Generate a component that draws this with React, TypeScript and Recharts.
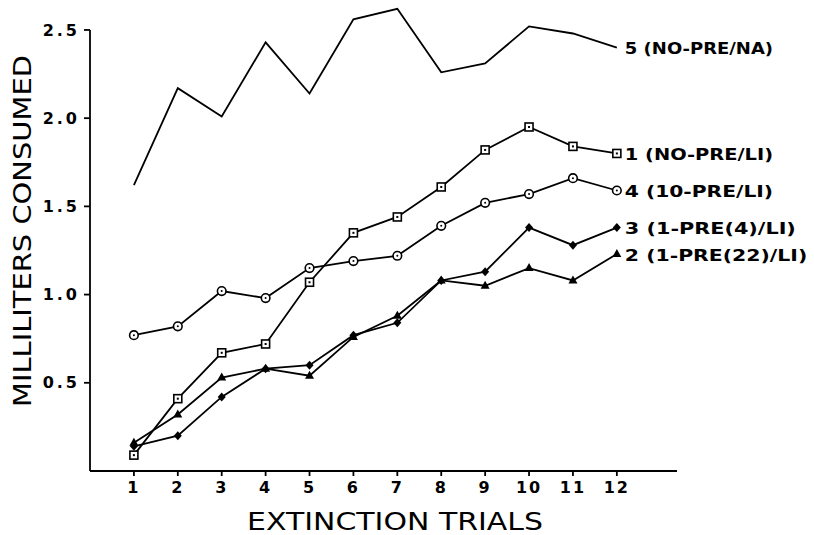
import { LineChart, Line, XAxis, YAxis, ReferenceLine } from "recharts";

// extinction trials 1..12
const trials = [1, 2, 3, 4, 5, 6, 7, 8, 9, 10, 11, 12];

// milliliters consumed per group
const group5 = [1.62, 2.17, 2.01, 2.43, 2.14, 2.56, 2.62, 2.26, 2.31, 2.52, 2.48, 2.4];
const group1 = [0.09, 0.41, 0.67, 0.72, 1.07, 1.35, 1.44, 1.61, 1.82, 1.95, 1.84, 1.8];
const group4 = [0.77, 0.82, 1.02, 0.98, 1.15, 1.19, 1.22, 1.39, 1.52, 1.57, 1.66, 1.59];
const group3 = [0.14, 0.2, 0.42, 0.58, 0.6, 0.77, 0.84, 1.08, 1.13, 1.38, 1.28, 1.38];
const group2 = [0.16, 0.32, 0.53, 0.58, 0.54, 0.76, 0.88, 1.08, 1.05, 1.15, 1.08, 1.23];

const seriesNames = {
  g5: "5 (NO-PRE/NA)",
  g1: "1 (NO-PRE/LI)",
  g4: "4 (10-PRE/LI)",
  g3: "3 (1-PRE(4)/LI)",
  g2: "2 (1-PRE(22)/LI)",
};

const yTicks = [0.5, 1.0, 1.5, 2.0, 2.5];

const data = trials.map((t, i) => ({
  trial: t,
  g5: group5[i],
  g1: group1[i],
  g4: group4[i],
  g3: group3[i],
  g2: group2[i],
}));

const FONT = "'DejaVu Sans', sans-serif";
const LW = 1.8;

const squareDot = (p: any) => (
  <g key={`sq-${p.index}`}>
    <rect x={p.cx - 4} y={p.cy - 4} width={8} height={8} fill="#fff" stroke="#000" strokeWidth={1.6} />
    <rect x={p.cx - 1} y={p.cy - 1} width={2} height={2} fill="#000" />
  </g>
);

const circleDot = (p: any) => (
  <g key={`ci-${p.index}`}>
    <circle cx={p.cx} cy={p.cy} r={4.3} fill="#fff" stroke="#000" strokeWidth={1.6} />
    <circle cx={p.cx} cy={p.cy} r={1} fill="#000" />
  </g>
);

const diamondDot = (p: any) => (
  <path
    key={`di-${p.index}`}
    d={`M${p.cx},${p.cy - 4.5} L${p.cx + 4},${p.cy} L${p.cx},${p.cy + 4.5} L${p.cx - 4},${p.cy} Z`}
    fill="#000"
  />
);

const triangleDot = (p: any) => (
  <path
    key={`tr-${p.index}`}
    d={`M${p.cx},${p.cy - 5} L${p.cx + 4.5},${p.cy + 3} L${p.cx - 4.5},${p.cy + 3} Z`}
    fill="#000"
  />
);

const endLabel = (text: string) => (props: any) => {
  if (props.index !== trials.length - 1) return null;
  return (
    <text
      key="end"
      x={props.x + 8}
      y={props.y + 1}
      dominantBaseline="central"
      fontFamily={FONT}
      fontSize={16}
      fontWeight="bold"
      textLength={text.length * 11.4}
      lengthAdjust="spacingAndGlyphs"
      fill="#000"
    >
      {text}
    </text>
  );
};

export default function App() {
  return (
    <div style={{ position: "absolute", left: 0, top: 0, width: 814, height: 535, background: "#fff" }}>
      <LineChart
        width={814}
        height={535}
        data={data}
        margin={{ top: 3.5, right: 137, bottom: 0, left: 0 }}
      >
        <XAxis
          dataKey="trial"
          type="number"
          domain={[0, 13.37]}
          ticks={trials}
          allowDataOverflow
          height={64}
          stroke="#000"
          strokeWidth={LW}
          tickSize={5}
          tickMargin={6}
          tick={{ fill: "#000", fontSize: 16, fontWeight: "bold", fontFamily: FONT, letterSpacing: 2 }}
        />
        <YAxis
          type="number"
          domain={[0, 2.65]}
          ticks={yTicks}
          tickFormatter={(v: number) => v.toFixed(1)}
          width={90}
          axisLine={false}
          stroke="#000"
          strokeWidth={LW}
          tickSize={6}
          tickMargin={4}
          tickLine={{ stroke: "#000", strokeWidth: LW }}
          tick={{ fill: "#000", fontSize: 16, fontWeight: "bold", fontFamily: FONT, letterSpacing: 3 }}
        />
        {/* vertical axis line only runs up to 2.5 */}
        <ReferenceLine
          segment={[
            { x: 0, y: 0 },
            { x: 0, y: 2.5 },
          ]}
          stroke="#000"
          strokeWidth={LW}
        />
        <Line dataKey="g5" stroke="#000" strokeWidth={LW} dot={false} isAnimationActive={false} label={endLabel(seriesNames.g5)} />
        <Line dataKey="g1" stroke="#000" strokeWidth={LW} dot={squareDot} isAnimationActive={false} label={endLabel(seriesNames.g1)} />
        <Line dataKey="g4" stroke="#000" strokeWidth={LW} dot={circleDot} isAnimationActive={false} label={endLabel(seriesNames.g4)} />
        <Line dataKey="g3" stroke="#000" strokeWidth={LW} dot={diamondDot} isAnimationActive={false} label={endLabel(seriesNames.g3)} />
        <Line dataKey="g2" stroke="#000" strokeWidth={LW} dot={triangleDot} isAnimationActive={false} label={endLabel(seriesNames.g2)} />
      </LineChart>
      <svg
        width={814}
        height={535}
        style={{ position: "absolute", left: 0, top: 0, pointerEvents: "none" }}
      >
        <text
          transform="rotate(-90)"
          x={-231}
          y={22}
          textAnchor="middle"
          dominantBaseline="central"
          fontFamily={FONT}
          fontSize={25}
          textLength={352}
          lengthAdjust="spacingAndGlyphs"
          fill="#000"
        >
          MILLILITERS CONSUMED
        </text>
        <text
          x={395}
          y={522}
          textAnchor="middle"
          dominantBaseline="central"
          fontFamily={FONT}
          fontSize={24}
          textLength={296}
          lengthAdjust="spacingAndGlyphs"
          fill="#000"
        >
          EXTINCTION TRIALS
        </text>
      </svg>
    </div>
  );
}
